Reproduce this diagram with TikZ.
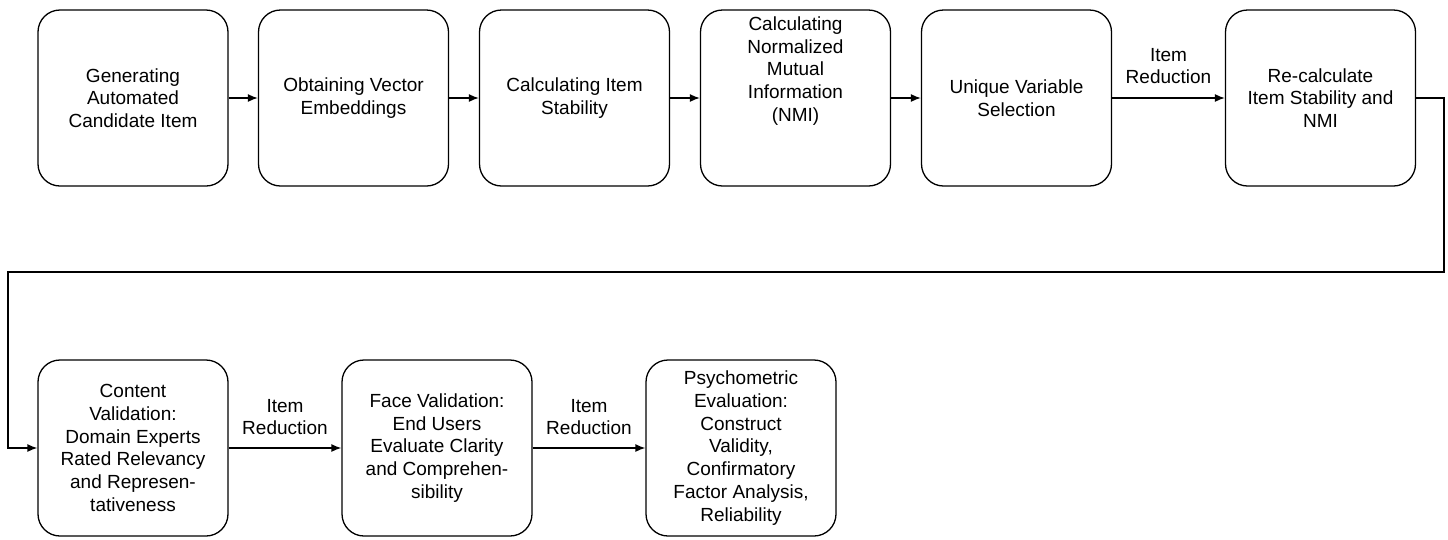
\documentclass[tikz,border=0pt]{standalone}
\usepackage{fontspec}
\setmainfont{Liberation Sans}
\usetikzlibrary{arrows.meta}
\tikzset{
  stepbox/.style={draw, line width=1.3pt, rounded corners=22pt, minimum width=190pt, minimum height=176pt, align=center, inner sep=0pt, font=\fontsize{19}{22.7}\selectfont},
  boxtext/.style={align=center, inner sep=0pt, font=\fontsize{19}{22.7}\selectfont},
  lbl/.style={align=center, inner sep=0pt, font=\fontsize{19}{22.7}\selectfont},
  conn/.style={line width=1.3pt, -{Latex[length=10pt,width=8pt]}}
}
\begin{document}
\begin{tikzpicture}
\useasboundingbox (0pt,0pt) rectangle (1448pt,-539pt);
\node[stepbox] (b1) at (133pt,-98pt) {Generating\\Automated\\Candidate Item};
\node[stepbox] (b2) at (353.5pt,-98pt) {Obtaining Vector\\Embeddings};
\node[stepbox] (b3) at (574.5pt,-98pt) {Calculating Item\\Stability};
\node[stepbox] (b4) at (795.5pt,-98pt) {};
\node[boxtext] (t4) at ([yshift=27pt]b4.center) {Calculating\\Normalized\\Mutual\\Information\\(NMI)};
\node[stepbox] (b5) at (1016.5pt,-98pt) {Unique Variable\\Selection};
\node[stepbox] (b6) at (1320.5pt,-98pt) {Re-calculate\\Item Stability and\\NMI};
\node[stepbox] (b7) at (133pt,-448pt) {Content\\Validation:\\Domain Experts\\Rated Relevancy\\and Represen-\\tativeness};
\node[stepbox] (b8) at (437pt,-448pt) {Face Validation:\\End Users\\Evaluate Clarity\\and Comprehen-\\sibility};
\node[stepbox] (b9) at (741pt,-448pt) {Psychometric\\Evaluation:\\Construct\\Validity,\\Confirmatory\\Factor Analysis,\\Reliability};
\draw[conn] (b1) -- (b2);
\draw[conn] (b2) -- (b3);
\draw[conn] (b3) -- (b4);
\draw[conn] (b4) -- (b5);
\draw[conn] (b5) -- node[lbl, yshift=32pt] (l1) {Item\\Reduction} (b6);
\coordinate (c1) at (1444pt,-272pt);
\coordinate (c2) at (8pt,-272pt);
\draw[conn] (b6.east) -| (c1) -- (c2) |- (b7.west);
\draw[conn] (b7) -- node[lbl, yshift=31pt] (l2) {Item\\Reduction} (b8);
\draw[conn] (b8) -- node[lbl, yshift=31pt] (l3) {Item\\Reduction} (b9);
\end{tikzpicture}
\end{document}
